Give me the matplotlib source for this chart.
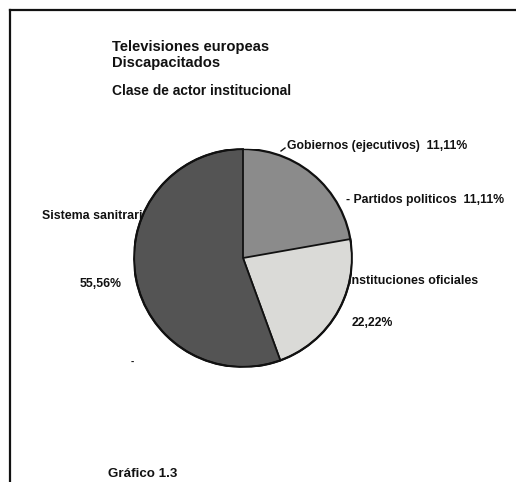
import matplotlib
matplotlib.use("Agg")
import matplotlib.pyplot as plt
from matplotlib.lines import Line2D
from matplotlib.patches import Circle

W, H = 516, 482

title_lines = ["Televisiones europeas", "Discapacitados"]
subtitle = "Clase de actor institucional"
categories = ["Gobiernos (ejecutivos)", "Partidos politicos", "Instituciones oficiales", "Sistema sanitrario"]
values = [11.11, 11.11, 22.22, 55.56]
value_labels = ["11,11%", "11,11%", "22,22%", "55,56%"]
footer = "Gráfico 1.3"

colors = ["#8b8b8b", "#8b8b8b", "#dadad7", "#545454"]

plt.rcParams['font.family'] = ['Liberation Sans', 'DejaVu Sans']

fig = plt.figure(figsize=(W / 100, H / 100), dpi=100)
fig.patch.set_facecolor("white")

def px(x, y):
    return x / W, 1 - y / H

# frame
fig.add_artist(Line2D([10 / W, 10 / W], [0, 1 - 10 / H], transform=fig.transFigure, color="#111", lw=1.6))
fig.add_artist(Line2D([10 / W, 1], [1 - 10 / H, 1 - 10 / H], transform=fig.transFigure, color="#111", lw=1.6))

# pie axes
cx, cy, r = 243, 258, 109
ax = fig.add_axes([(cx - r) / W, (H - cy - r) / H, 2 * r / W, 2 * r / H])

wedges, _ = ax.pie(values, colors=colors, startangle=90, counterclock=False, radius=1,
                   wedgeprops=dict(linewidth=0))
for w in wedges[:2]:
    w.set_edgecolor(w.get_facecolor())
    w.set_linewidth(0.8)
    w.set_zorder(2)
for w in wedges[2:]:
    w.set_edgecolor("#111")
    w.set_linewidth(1.3)
    w.set_zorder(3)
ax.add_patch(Circle((0, 0), 1, fill=False, edgecolor="#111", lw=1.6, zorder=4))
ax.set_xlim(-1, 1)
ax.set_ylim(-1, 1)
ax.set_aspect("auto")
ax.axis("off")

bold = dict(fontweight="bold", color="#111")

def ftext(x, y, s, size, **kw):
    X, Y = px(x, y)
    ax.text(X, Y, s, transform=fig.transFigure, fontsize=size, va="center", ha="left",
            clip_on=False, zorder=kw.pop("zorder", 5), **bold, **kw)

ftext(112, 47, title_lines[0], 10.6)
ftext(112, 63, title_lines[1], 10.6)
ftext(112, 91, subtitle, 9.9)

ftext(287, 146, categories[0] + "  " + value_labels[0], 8.8)
fig.add_artist(Line2D([281 / W, 285 / W], [1 - 151 / H, 1 - 148 / H], transform=fig.transFigure, color="#111", lw=1))
ftext(346, 200, "- " + categories[1] + "  " + value_labels[1], 8.8)
ftext(348, 281, categories[2], 8.9, zorder=1)
ftext(352, 323, value_labels[2], 8.8)
ftext(42, 216, categories[3], 8.9, zorder=1)
ftext(80, 284, value_labels[3], 8.8)
ftext(131, 362, "-", 7)

ftext(108, 474, footer, 9.6)

fig.savefig("out.png", dpi=100, facecolor="white")
